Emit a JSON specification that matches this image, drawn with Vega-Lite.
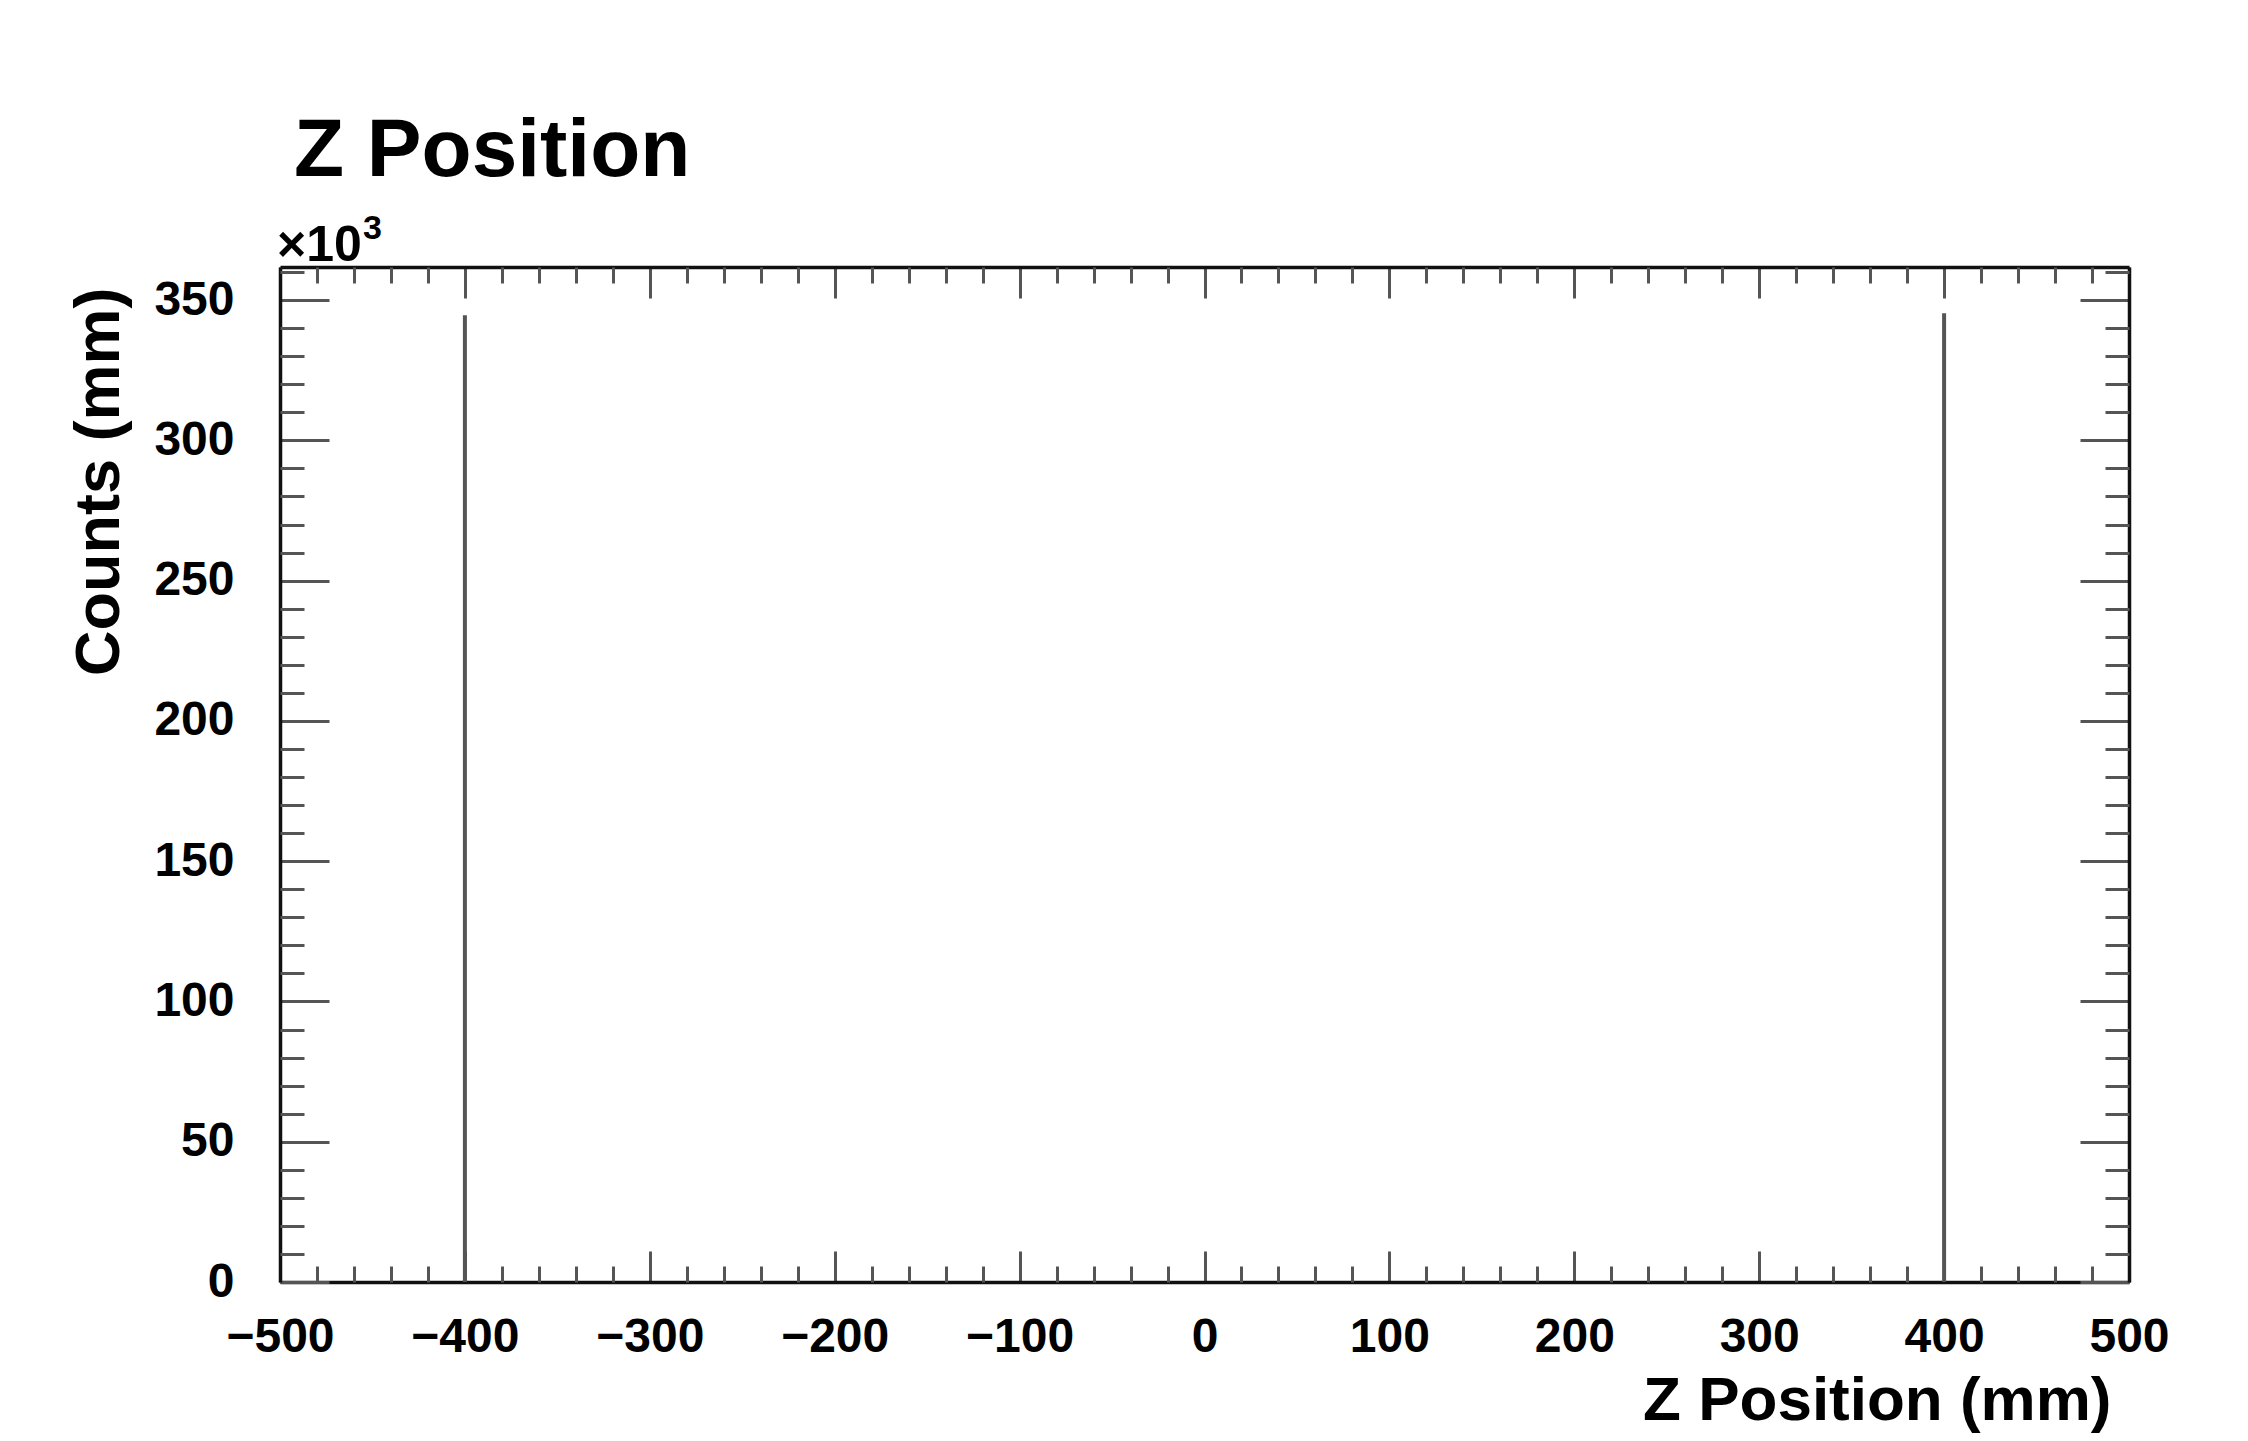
{
  "$schema": "https://vega.github.io/schema/vega-lite/v6.json",
  "width": 1849,
  "height": 1015,
  "autosize": {"type": "none"},
  "padding": {"left": 280, "top": 267, "right": 119, "bottom": 159},
  "background": "white",
  "title": {"text": "Z Position", "anchor": "start", "frame": "group", "dx": 14, "dy": 80, "offset": 34, "font": "Liberation Sans", "fontSize": 82, "fontWeight": "bold", "color": "black", "baseline": "alphabetic"},
  "config": {
    "view": {"stroke": null},
    "axis": {"grid": false, "labelFont": "Liberation Sans", "labelFontWeight": "bold", "labelFontSize": 48, "labelColor": "black", "titleFont": "Liberation Sans", "titleFontWeight": "bold", "titleFontSize": 63, "titleColor": "black", "tickColor": "#555555", "tickWidth": 3, "domainColor": "#111111", "domainWidth": 3.5, "labelFlush": false, "labelOverlap": false}
  },
  "data": {"values": [{"z": -400, "counts": 344600}, {"z": 400, "counts": 345300}]},
  "layer": [
    {
      "mark": {"type": "rule", "color": "#555555", "strokeWidth": 4},
      "encoding": {
        "x": {"field": "z", "type": "quantitative", "scale": {"domain": [-500, 500], "nice": false, "zero": false},
          "axis": {"orient": "bottom", "values": [-500, -400, -300, -200, -100, 0, 100, 200, 300, 400, 500], "tickSize": -31, "labelPadding": 62, "title": "Z Position (mm)", "titleFontSize": 62, "titleX": 1831, "titleY": 137, "titleAlign": "right", "titleBaseline": "alphabetic", "titleAnchor": "end"}},
        "y": {"field": "counts", "type": "quantitative", "scale": {"domain": [0, 361800], "nice": false, "zero": false},
          "axis": {"orient": "left", "values": [0, 50000, 100000, 150000, 200000, 250000, 300000, 350000], "tickSize": -49, "labelPadding": 95, "labelExpr": "format(datum.value/1000,'d')", "title": "Counts (mm)", "titleX": -162, "titleY": 20, "titleAlign": "right", "titleBaseline": "alphabetic", "titleAngle": -90}},
        "y2": {"datum": 0}
      }
    },
    {
      "mark": {"type": "rule", "strokeOpacity": 0},
      "encoding": {
        "x": {"field": "z", "type": "quantitative", "scale": {"domain": [-500, 500], "nice": false, "zero": false},
          "axis": {"orient": "bottom", "values": [-480,-460,-440,-420,-380,-360,-340,-320,-280,-260,-240,-220,-180,-160,-140,-120,-80,-60,-40,-20,20,40,60,80,120,140,160,180,220,240,260,280,320,340,360,380,420,440,460,480], "tickSize": -16, "labels": false, "domain": false, "title": null}},
        "y": {"field": "counts", "type": "quantitative", "scale": {"domain": [0, 361800], "nice": false, "zero": false},
          "axis": {"orient": "left", "values": [10000,20000,30000,40000,60000,70000,80000,90000,110000,120000,130000,140000,160000,170000,180000,190000,210000,220000,230000,240000,260000,270000,280000,290000,310000,320000,330000,340000,360000], "tickSize": -24, "labels": false, "domain": false, "title": null}}
      }
    },
    {
      "mark": {"type": "rule", "strokeOpacity": 0},
      "encoding": {
        "x": {"field": "z", "type": "quantitative", "scale": {"domain": [-500, 500], "nice": false, "zero": false},
          "axis": {"orient": "top", "values": [-500, -400, -300, -200, -100, 0, 100, 200, 300, 400, 500], "tickSize": -31, "labels": false, "title": null}},
        "y": {"field": "counts", "type": "quantitative", "scale": {"domain": [0, 361800], "nice": false, "zero": false},
          "axis": {"orient": "right", "values": [0, 50000, 100000, 150000, 200000, 250000, 300000, 350000], "tickSize": -49, "labels": false, "title": null}}
      }
    },
    {
      "mark": {"type": "rule", "strokeOpacity": 0},
      "encoding": {
        "x": {"field": "z", "type": "quantitative", "scale": {"domain": [-500, 500], "nice": false, "zero": false},
          "axis": {"orient": "top", "values": [-480,-460,-440,-420,-380,-360,-340,-320,-280,-260,-240,-220,-180,-160,-140,-120,-80,-60,-40,-20,20,40,60,80,120,140,160,180,220,240,260,280,320,340,360,380,420,440,460,480], "tickSize": -16, "labels": false, "domain": false, "title": null}},
        "y": {"field": "counts", "type": "quantitative", "scale": {"domain": [0, 361800], "nice": false, "zero": false},
          "axis": {"orient": "right", "values": [10000,20000,30000,40000,60000,70000,80000,90000,110000,120000,130000,140000,160000,170000,180000,190000,210000,220000,230000,240000,260000,270000,280000,290000,310000,320000,330000,340000,360000], "tickSize": -24, "labels": false, "domain": false, "title": null}}
      }
    },
    {
      "data": {"values": [{"t": "×10"}]},
      "mark": {"type": "text", "font": "Liberation Sans", "fontWeight": "bold", "fontSize": 50, "align": "left", "baseline": "alphabetic", "dx": -3, "dy": -6, "color": "black"},
      "encoding": {
        "x": {"datum": -500, "type": "quantitative", "axis": null},
        "y": {"datum": 361800, "type": "quantitative", "axis": null},
        "text": {"field": "t"}
      }
    },
    {
      "data": {"values": [{"t": "3"}]},
      "mark": {"type": "text", "font": "Liberation Sans", "fontWeight": "bold", "fontSize": 34, "align": "left", "baseline": "alphabetic", "dx": 83, "dy": -28, "color": "black"},
      "encoding": {
        "x": {"datum": -500, "type": "quantitative", "axis": null},
        "y": {"datum": 361800, "type": "quantitative", "axis": null},
        "text": {"field": "t"}
      }
    }
  ],
  "resolve": {"axis": {"x": "independent", "y": "independent"}}
}
